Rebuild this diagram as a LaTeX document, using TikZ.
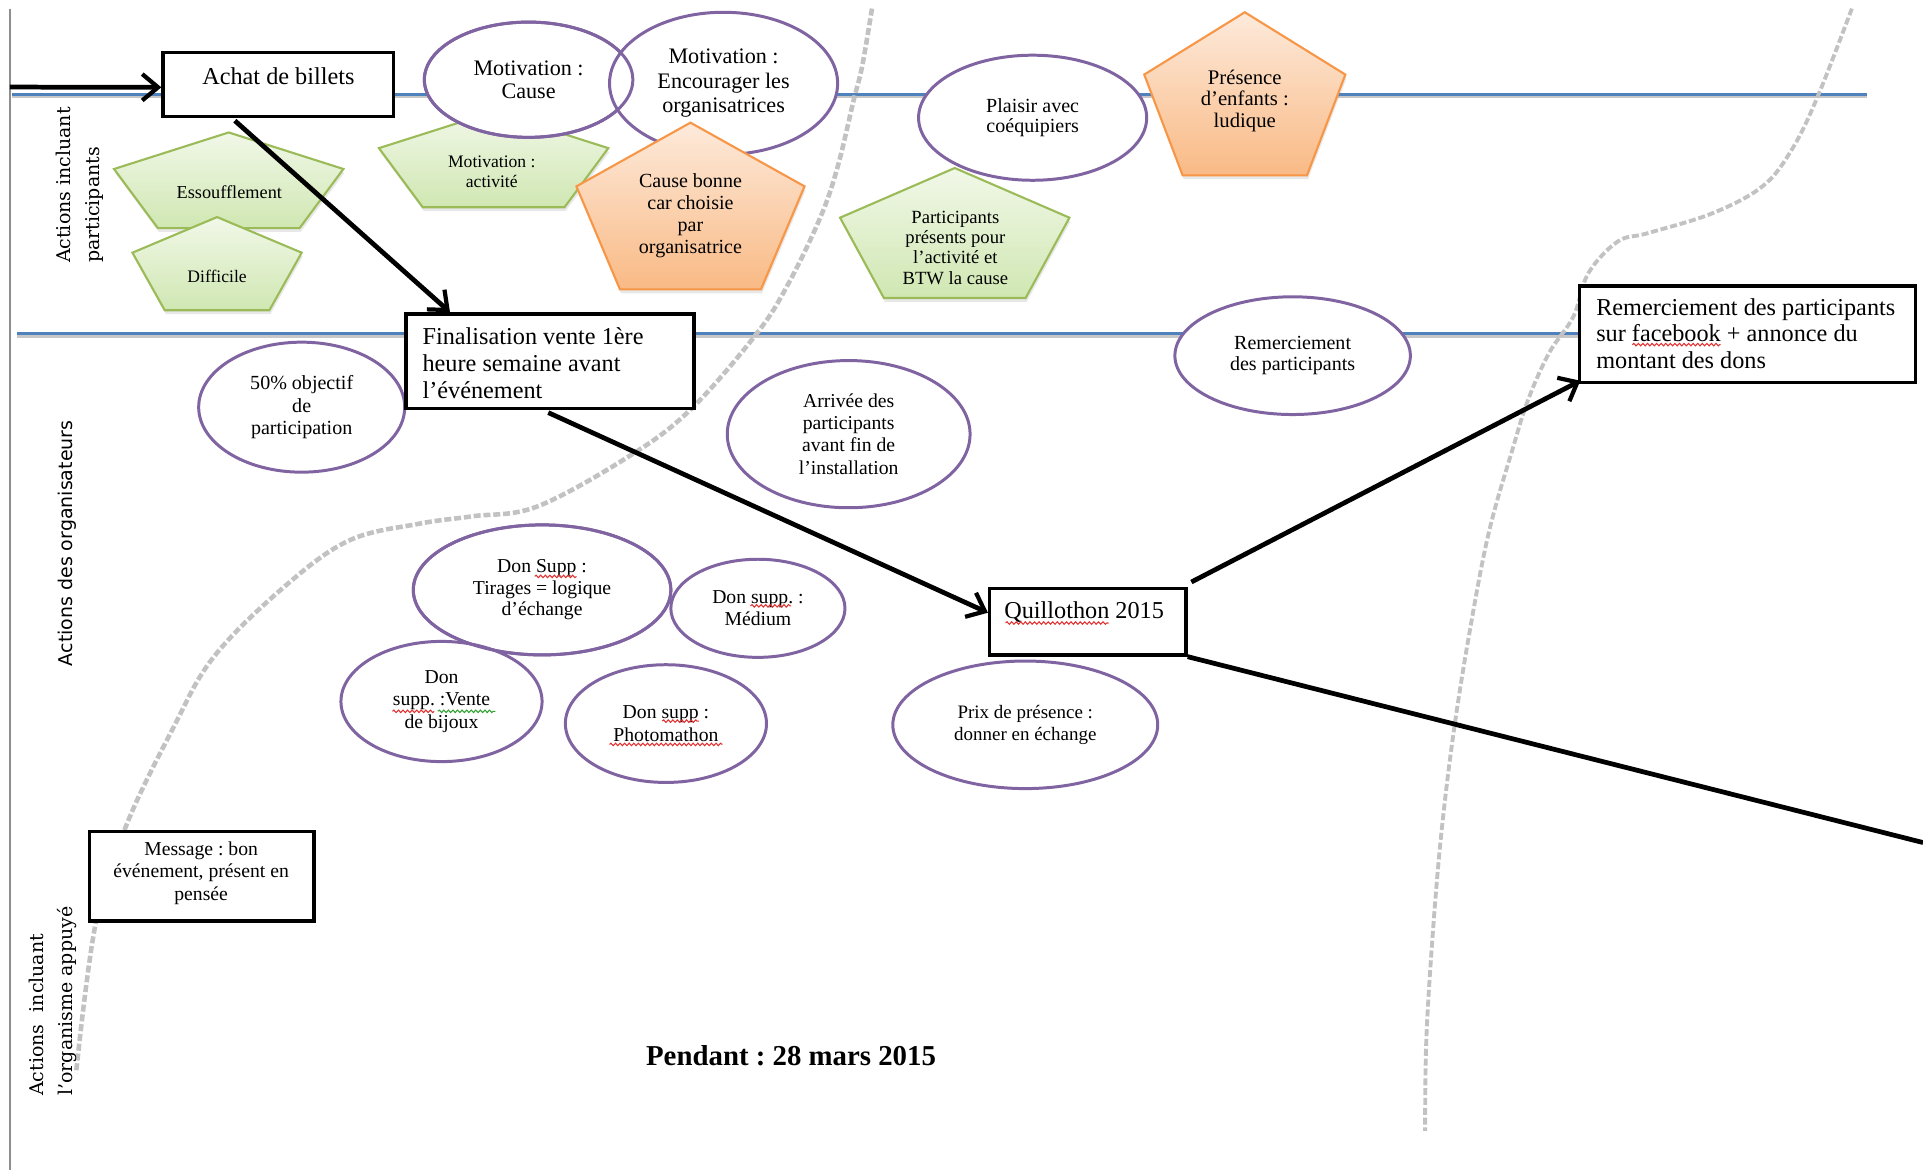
\documentclass[tikz,border=0pt]{standalone}
\usepackage{fontspec}
\setmainfont{Liberation Serif}
\newfontfamily\sideserif{DejaVu Serif}
\newfontfamily\sidesans{DejaVu Sans}
\usetikzlibrary{arrows.meta,calc,shadows,shapes.geometric,decorations.pathmorphing}
\frenchspacing

\definecolor{laneblue}{HTML}{4F81BD}
\definecolor{ovalpurple}{HTML}{8064A2}
\definecolor{pgreenline}{HTML}{9BBB59}
\definecolor{pgreentop}{HTML}{F1F8E8}
\definecolor{pgreenbot}{HTML}{D0E7B2}
\definecolor{porangeline}{HTML}{F79646}
\definecolor{porangetop}{HTML}{FDEADB}
\definecolor{porangebot}{HTML}{F9BA85}
\definecolor{phaseline}{HTML}{C2C2C2}
\definecolor{frameline}{HTML}{8E8E8E}
\definecolor{spellred}{HTML}{E03030}
\definecolor{spellgreen}{HTML}{30A030}

% one drawing unit
\newcommand\dpx{0.34893pt}
\newcommand\fs[2]{\fontsize{#1}{#2}\selectfont}

% pentagon fitted in a box: style, left, top, right, bottom
\newcommand\pentagonpath[5]{%
  \path[#1] ({(#2+#4)/2},#3) -- (#4,{#3+0.382*(#5-#3)})
    -- ({(#2+#4)/2+0.309*(#4-#2)},#5) -- ({(#2+#4)/2-0.309*(#4-#2)},#5)
    -- (#2,{#3+0.382*(#5-#3)}) -- cycle;}

\tikzset{
  oval/.style 2 args={ellipse, draw=ovalpurple, line width=0.85pt, fill=white,
    inner sep=0pt, minimum width=#1*\dpx, minimum height=#2*\dpx, align=center},
  ovalrim/.style={draw=ovalpurple, line width=0.85pt},
  stepbox/.style 2 args={draw=black, line width=1pt, fill=white, inner sep=0pt,
    minimum width=#1*\dpx, minimum height=#2*\dpx},
  boxtext/.style={inner sep=0pt, align=left, font=\fs{6.9}{7.6}},
  ptext/.style={inner sep=0pt, align=center},
  greenpent/.style={draw=pgreenline, line width=0.6pt, top color=pgreentop,
    bottom color=pgreenbot,
    drop shadow={shadow xshift=0.3pt, shadow yshift=-1.1pt, opacity=0.18}},
  orangepent/.style={draw=porangeline, line width=0.6pt, top color=porangetop,
    bottom color=porangebot,
    drop shadow={shadow xshift=0.3pt, shadow yshift=-1.1pt, opacity=0.18}},
  lane/.style={draw=laneblue, line width=0.9pt},
  laneshadow/.style={draw=black!22, line width=0.9pt},
  phase/.style={draw=phaseline, line width=1.3pt, dash pattern=on 2pt off 0.8pt},
  flow/.style={draw=black, line width=1.35pt},
  flowarrow/.style={flow, -{Straight Barb[length=4.5pt,width=7.5pt,line width=1.2pt]}},
  spell/.style={draw=spellred, line width=0.3pt,
    decorate, decoration={snake, amplitude=0.35pt, segment length=1.3pt}},
}

\begin{document}
\begin{tikzpicture}[x=\dpx, y=-\dpx]
\path[use as bounding box, fill=white] (0,0) rectangle (1568,954);

% frame and lane dividers
\draw[draw=frameline, line width=0.6pt] (8,7) -- (8,954);
\draw[laneshadow] (10,79) -- (1522,79);
\draw[lane] (10,77) -- (1522,77);
\draw[laneshadow] (14,274) -- (1400,274);
\draw[lane] (14,272) -- (1400,272);

% phase boundaries
\draw[phase] plot[smooth, tension=0.6] coordinates {(711,7) (703,54) (696,82)
  (683,136) (669,177) (643,231) (617,272) (563,334) (513,372) (438,413)
  (385,421) (342,427) (284,441) (230,480) (174,536) (141,594) (103,673)
  (78,753) (62,875)};
\draw[phase, line width=1.1pt] plot[smooth, tension=0.6] coordinates {(1510,7)
  (1482,79) (1461,122) (1437,152) (1396,174) (1344,190) (1319,197) (1295,223)
  (1283,258) (1263,288) (1246,326) (1234,364) (1214,434) (1198,517) (1185,599)
  (1175,682) (1168,765) (1163,848) (1162,922)};

% participants lane
\pentagonpath{greenpent}{93}{108}{280}{186}
\node[ptext, font=\fs{5.2}{6}] (essouf) at (187,157) {Essoufflement};
\pentagonpath{greenpent}{108}{177}{246}{253}
\node[ptext, font=\fs{5.0}{6}] (diffic) at (177,225) {Difficile};
\pentagonpath{greenpent}{309}{91}{496}{169}
\node[ptext, font=\fs{5.0}{5.9}] (motact) at (401,140) {Motivation :\\activité};

\node[oval={170}{94}, font=\fs{6.3}{6.6}] (cause) at (431,65) {Motivation :\\Cause};
\node[oval={186}{116}, font=\fs{6.3}{7}] (encour) at (590,68) {Motivation :\\Encourager les\\organisatrices};
\draw[ovalrim] (cause.center) ellipse [x radius=85, y radius=47];

\pentagonpath{orangepent}{470}{100}{656}{236}
\node[ptext, font=\fs{5.7}{6.3}] (cbonne) at (563,176) {Cause bonne\\car choisie\\par\\organisatrice};

\pentagonpath{greenpent}{685}{137}{872}{243}
\node[ptext, font=\fs{5.3}{5.8}] (particip) at (779,202) {Participants\\présents pour\\l’activité et\\BTW la cause};
\node[oval={186}{102}, font=\fs{5.7}{5.9}] (plaisir) at (842,96) {Plaisir avec\\coéquipiers};

\pentagonpath{orangepent}{933}{10}{1097}{143}
\node[ptext, font=\fs{5.9}{6.1}] (enfants) at (1015,82) {Présence\\d’enfants :\\ludique};

% organisers lane
\node[oval={168}{106}, font=\fs{5.7}{6.3}] (obj) at (246,332) {50\% objectif\\de\\participation};
\node[oval={198}{120}, font=\fs{5.6}{6.3}] (arrivee) at (692,354) {Arrivée des\\participants\\avant fin de\\l’installation};
\node[oval={192}{96}, font=\fs{5.7}{5.9}] (removal) at (1054,290) {Remerciement\\des participants};
\node[oval={210}{106}, font=\fs{5.6}{6.1}] (tirages) at (442,481) {Don Supp :\\Tirages = logique\\d’échange};
\node[oval={142}{80}, font=\fs{5.6}{6.3}] (medium) at (618,496) {Don supp. :\\Médium};
\node[oval={164}{98}, font=\fs{5.6}{6.3}] (bijoux) at (360,572) {Don\\supp. :Vente\\de bijoux};
\draw[ovalrim] (tirages.center) ellipse [x radius=105, y radius=53];
\node[oval={164}{96}, font=\fs{5.6}{6.3}] (photo) at (543,590) {Don supp :\\Photomathon};
\node[oval={216}{104}, font=\fs{5.4}{6.3}] (prix) at (836,591) {Prix de présence :\\donner en échange};

% main sequence
\node[stepbox={188}{52}] (achat) at (227,69) {};
\node[boxtext] (achatlbl) at (227,62) {Achat de billets};
\node[stepbox={235}{77}] (fin) at (448.5,294.5) {};
\node[boxtext, anchor=west] (finlbl) at (344,296) {Finalisation vente 1ère\\heure semaine avant\\l’événement};
\node[stepbox={160}{54}] (quil) at (887,507) {};
\node[boxtext] (quillbl) at (884,499) {Quillothon 2015};
\node[stepbox={274}{79}] (rem) at (1425,272.5) {};
\node[boxtext, anchor=west] (remlbl) at (1301,272) {Remerciement des participants\\sur facebook + annonce du\\montant des dons};

% supported organisation lane
\node[stepbox={183}{73}] (msg) at (164.5,714.5) {};
\node[ptext, font=\fs{5.6}{6.5}] (msglbl) at (164,712) {Message : bon\\événement, présent en\\pensée};

% connectors
\coordinate (entry) at (8,71);
\coordinate (exitright) at (1568,687);
\draw[flowarrow] (entry) -- ($(achat.north west)!0.54!(achat.south west)$);
\draw[flowarrow] ($(achat.south west)!0.314!(achat.south east)+(0,2)$) -- ($(fin.north west)!0.157!(fin.north east)$);
\draw[flowarrow] ($(fin.south west)!0.494!(fin.south east)+(0,2)$) -- ($(quil.north west)!0.37!(quil.south west)$);
\draw[flowarrow] ($(quil.north east)+(3,-4)$) -- ($(rem.south west)+(2,-3)$);
\draw[flow] (quil.south east) -- (exitright);

% spelling marks under words
\draw[spell] (820,508) -- (904,508);
\draw[spell] (1331,281) -- (1403,281);
\draw[spell] (436,470) -- (470,470);
\draw[spell] (612,494) -- (645,494);
\draw[spell] (320,580) -- (354,580);
\draw[spell, draw=spellgreen] (357,580) -- (404,580);
\draw[spell] (540,588) -- (570,588);
\draw[spell] (497,607) -- (589,607);

% lane titles and date
\node[rotate=90, anchor=west, align=left, inner sep=0pt, font=\sideserif\fs{5.4}{8.4}] (lanetop) at (65,215) {Actions incluant\\participants};
\node[rotate=90, inner sep=0pt, font=\sidesans\fs{5.4}{6.5}] (lanemid) at (54.5,443) {Actions des organisateurs};
\node[rotate=90, anchor=west, align=left, inner sep=0pt, font=\sideserif\fs{5.4}{8.4}] (lanebot) at (43,894) {Actions\ \ incluant\\l’organisme appuyé};
\node[inner sep=0pt, font=\bfseries\fs{8.2}{9}] (title) at (645,861) {Pendant : 28 mars 2015};
\end{tikzpicture}
\end{document}
